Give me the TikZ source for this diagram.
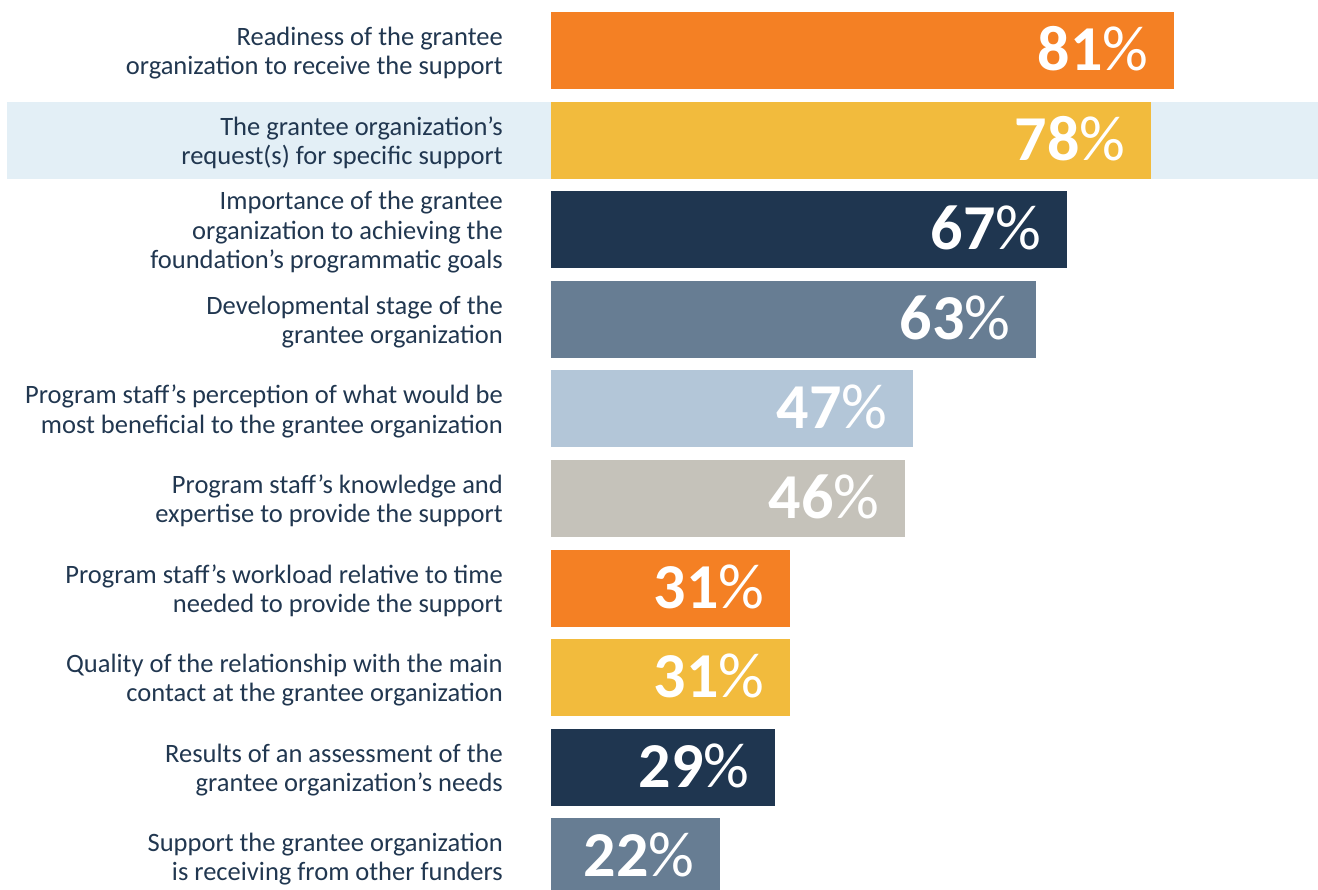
\documentclass[tikz,border=0pt]{standalone}
\usepackage{fontspec}
\setmainfont{Carlito}
\definecolor{cOrange}{HTML}{F48024}
\definecolor{cYellow}{HTML}{F2BB3D}
\definecolor{cNavy}{HTML}{1F3650}
\definecolor{cSlate}{HTML}{677D93}
\definecolor{cLight}{HTML}{B3C6D8}
\definecolor{cGray}{HTML}{C5C2BA}
\definecolor{cBand}{HTML}{E3EFF6}
\definecolor{cText}{HTML}{213750}
\tikzset{
  bar/.style={draw=none, minimum height=77pt, inner sep=0pt, anchor=west},
  lab/.style={align=right, anchor=east, text=cText, inner sep=0pt, font=\fontsize{26.5}{29.3}\selectfont},
  pct/.style={anchor=base east, text=white, inner sep=0pt, text depth=0pt, text height=42pt, font=\fontsize{64}{64}\selectfont}
}
\begin{document}
\begin{tikzpicture}[x=1pt,y=-1pt]
\useasboundingbox (0,0) rectangle (1318,890);
\clip (0,0) rectangle (1318,890);
\fill[cBand] (7,101.6) rectangle (1318,178.6);
\foreach \i/\w/\c/\v/\t in {
 1/623/cOrange/81/{Readiness of the grantee\\organization to receive the support},
 2/600/cYellow/78/{The grantee organization’s\\request(s) for specific support},
 3/516/cNavy/67/{Importance of the grantee\\organization to achieving the\\foundation’s programmatic goals},
 4/485/cSlate/63/{Developmental stage of the\\grantee organization},
 5/362/cLight/47/{Program staff’s perception of what would be\\most beneficial to the grantee organization},
 6/354/cGray/46/{Program staff’s knowledge and\\expertise to provide the support},
 7/239/cOrange/31/{Program staff’s workload relative to time\\needed to provide the support},
 8/239/cYellow/31/{Quality of the relationship with the main\\contact at the grantee organization},
 9/224/cNavy/29/{Results of an assessment of the\\grantee organization’s needs},
 10/169/cSlate/22/{Support the grantee organization\\is receiving from other funders}}{
  \pgfmathsetmacro{\cy}{50.5+89.6*(\i-1)}
  \node[bar, fill=\c, minimum width=\w pt] (b\i) at (551,\cy) {};
  \node[pct] (p\i) at ([xshift=-26pt,yshift=-20pt]b\i.east) {\textbf{\v}{\mdseries\%}};
  \node[lab] (l\i) at (503,\cy+2.5) {\t};
}
\end{tikzpicture}
\end{document}
